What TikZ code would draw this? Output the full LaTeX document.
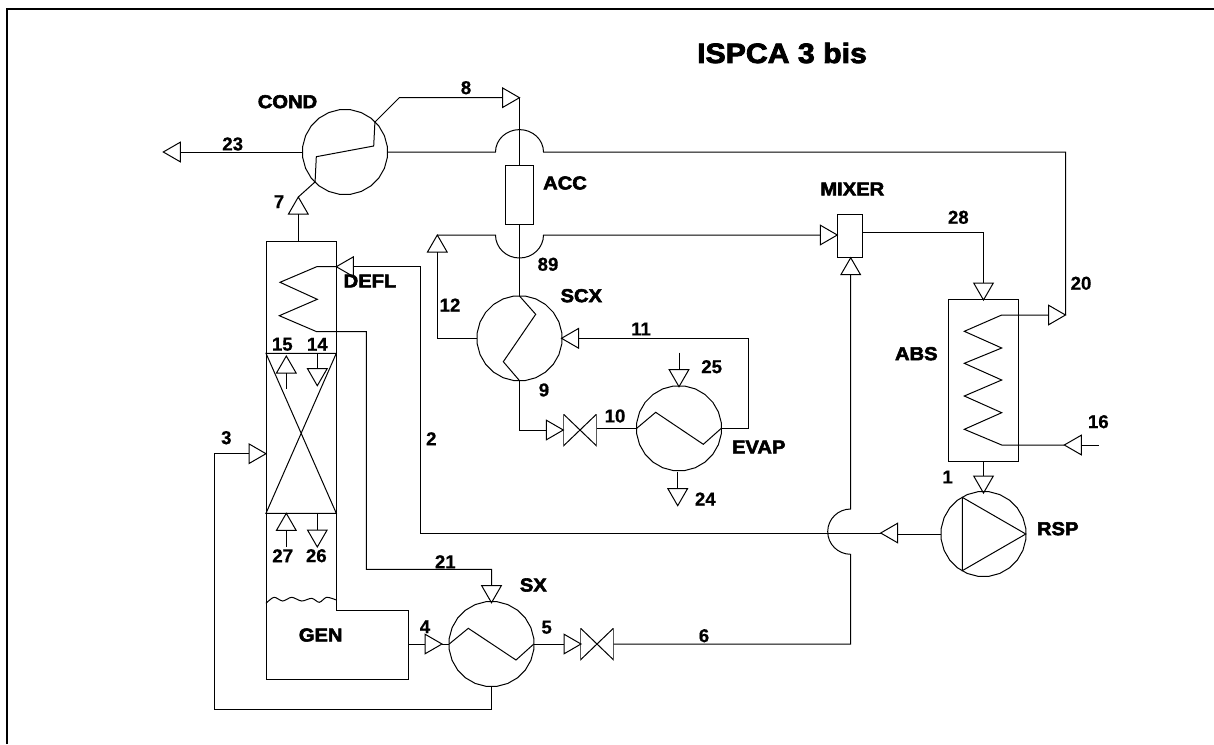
\documentclass[tikz,border=0pt]{standalone}
\usepackage{fontspec}
\setmainfont{Liberation Sans}
\newfontfamily\heavyfont[UprightFont=* Bold,FakeBold=3,FakeStretch=1.08]{Liberation Sans}
\newfontfamily\numfont[UprightFont=* Bold,FakeBold=0.6]{Liberation Sans}
\usetikzlibrary{shapes.geometric}

\begin{document}
\begin{tikzpicture}[
    x=0.75pt, y=-0.75pt, line width=0.75pt,
    unit/.style={regular polygon, regular polygon sides=24, draw, inner sep=0pt, outer sep=0pt, minimum size=64pt},
    vessel/.style={rectangle, draw, inner sep=0pt, outer sep=0pt},
    tri/.style={regular polygon, regular polygon sides=3, draw, inner sep=0pt, outer sep=0pt, minimum size=17pt, anchor=corner 1},
    triR/.style={tri, shape border rotate=-90},
    triL/.style={tri, shape border rotate=90},
    triU/.style={tri},
    triD/.style={tri, shape border rotate=180},
    valve/.style={rectangle, inner sep=0pt, outer sep=0pt, minimum width=25pt, minimum height=24pt,
        path picture={\draw (path picture bounding box.north west) -- (path picture bounding box.south east)
            -- (path picture bounding box.north east) -- (path picture bounding box.south west) -- cycle;}},
    num/.style={font=\fontsize{14}{16}\selectfont\numfont, inner sep=0pt},
    tag/.style={font=\fontsize{14}{16}\selectfont\heavyfont, inner sep=0pt}
]
\useasboundingbox (0,0) rectangle (1214,744);
\draw[line width=1.5pt] (7,744) -- (7,9) -- (1214,9);

\node[font=\fontsize{21}{24}\selectfont\heavyfont, inner sep=0pt] (title) at (782,53) {ISPCA 3 bis};

\node[unit] (COND) at (345,152) {};
\node[unit] (SCX) at (519.5,338.3) {};
\node[unit] (EVAP) at (679,428.3) {};
\node[unit] (SX) at (491.5,644) {};
\node[unit] (RSP) at (983.5,534) {};
\node[vessel, minimum width=21pt, minimum height=44.25pt] (ACC) at (519.5,194.5) {};
\node[vessel, minimum width=19pt, minimum height=32.5pt] (MIXER) at (850,236) {};
\node[vessel, minimum width=53pt, minimum height=121pt] (ABS) at (983.5,380.6) {};
\node[valve] (V1) at (580,430) {};
\node[valve] (V2) at (597,644) {};

\draw (266,241.3) -- (336.3,241.3) -- (336.3,610.7) -- (408.7,610.7) -- (408.7,679.3) -- (266,679.3) -- cycle;
\draw (266,353.3) -- (336.3,353.3) -- (266,513.3) -- (336.3,513.3) -- cycle;
\draw plot[smooth] coordinates {(266,603.3) (274,597.3) (282.7,601) (291.7,597.3) (301.7,601) (311.7,598.3) (319.3,602.3) (326.7,597.3) (336.3,600)};

\coordinate (COLtop) at (298.3,241.3);
\coordinate (GENout) at (408.7,644);
\coordinate (c2) at (420.3,533);
\coordinate (c3) at (214.7,709.3);
\coordinate (c6) at (850.7,644);
\coordinate (c8) at (399.3,97.7);
\coordinate (c11) at (748.7,338.3);
\coordinate (c14) at (317.3,353.3);
\coordinate (c26) at (317.3,513.3);
\coordinate (c28) at (862.7,232.7);
\coordinate (end15) at (286.3,389.3);
\coordinate (end16) at (1099,445);
\coordinate (end24) at (677.7,471.7);
\coordinate (end25) at (679,352.7);
\coordinate (end27) at (286.3,546.7);
\coordinate (brA) at (495.5,152);
\coordinate (brB) at (495.5,235);
\coordinate (brC) at (850.7,554.3);

\node[triR] (t8) at (519.5,97.7) {};
\node[triL] (t23) at (163.3,152) {};
\node[triU] (t7) at (298.3,197) {};
\node[triL] (tDEFL) at (336.3,266.7) {};
\node[triU] (t12) at (437.3,235) {};
\node[triL] (t11) at (561.5,338.3) {};
\node[triR] (tV1) at (563.3,430) {};
\node[triD] (t25) at (679,386.7) {};
\node[triD] (t24) at (677.7,505.7) {};
\node[triR] (t3) at (266,453.7) {};
\node[triU] (t15) at (286.3,356) {};
\node[triD] (t14) at (317.3,385.7) {};
\node[triU] (t27) at (286.3,513.3) {};
\node[triD] (t26) at (317.3,547) {};
\node[triD] (tSX) at (491.5,602.7) {};
\node[triR] (t4) at (442,644) {};
\node[triR] (t5) at (581,644) {};
\node[triR] (tMIXl) at (837.3,235) {};
\node[triU] (tMIXb) at (850.7,257.7) {};
\node[triD] (t28) at (983.5,300) {};
\node[triR] (t20) at (1065.5,315) {};
\node[triL] (t16) at (1064.3,445) {};
\node[triD] (tRSP) at (983.5,493) {};
\node[triL] (t2) at (880.7,533) {};

\draw (COND.225) -- (316.3,156.7) -- (373.7,146) -- (COND.45);
\draw (SCX.north) -- (535.7,314.3) -- (503.3,361.7) -- (SCX.south);
\draw (EVAP.west) -- (655.7,412.3) -- (703.3,444.3) -- (EVAP.east);
\draw (SX.west) -- (468.3,628.3) -- (516,660) -- (SX.east);
\draw (RSP.120) -- (RSP.east) -- (RSP.240) -- cycle;

\draw (COND.45) -- (c8) -- (t8.side 2);
\draw (t8.corner 1) -- (ACC.north);
\draw (ACC.south) -- (SCX.north);
\draw (COND.west) -- (t23.side 2);
\draw (COND.225) -- (t7.corner 1);
\draw (t7.side 2) -- (COLtop);
\draw (COND.east) -- (brA) arc[start angle=180, end angle=360, x radius=24, y radius=22.4] -| (t20.corner 1);
\draw (t12.corner 1) -- (brB) arc[start angle=180, end angle=0, x radius=24, y radius=23] -- (tMIXl.side 2);
\draw (SCX.west) -| (t12.side 2);
\draw (SCX.south) |- (tV1.side 2);
\draw (V1.east |- EVAP.west) -- (EVAP.west);
\draw (EVAP.east) -| (c11) -- (t11.side 2);
\draw (end25) -- (t25.side 2);
\draw (end24) -- (t24.side 2);
\draw (RSP.west) -- (RSP.west -| t2.side 2);
\draw (t2.corner 1) -- (c2) |- (tDEFL.side 2);
\draw (tDEFL.corner 1) -- (316.7,266.7) -- (280,282.3) -- (317.3,299.3) -- (279.3,315.7) -- (316.7,331.7) -- (366.3,331.7) -- (366.3,569.3) -| (tSX.side 2);
\draw (c14) -- (t14.side 2);
\draw (t15.side 2) -- (end15);
\draw (t27.side 2) -- (end27);
\draw (c26) -- (t26.side 2);
\draw (GENout) -- (t4.side 2);
\draw (t4.corner 1) -- (SX.west);
\draw (SX.east) -- (t5.side 2);
\draw (SX.south) |- (c3) |- (t3.side 2);
\draw (V2.east) -- (c6) -- (brC) arc[start angle=90, end angle=270, x radius=23, y radius=22.65] -- (tMIXb.side 2);
\draw (c28) -| (t28.side 2);
\draw (t20.side 2) -- (1001.7,315) -- (964.3,331.3) -- (1001.7,348) -- (964.3,363.3) -- (1001.7,380) -- (964.3,396) -- (1001.7,412.7) -- (964.3,429.3) -- (1001.7,445) -- (t16.corner 1);
\draw (t16.side 2) -- (end16);
\draw (ABS.south) -- (tRSP.side 2);

\node[tag] (lCOND) at (287.5,101.7) {COND};
\node[tag] (lACC) at (565,183) {ACC};
\node[tag] (lDEFL) at (370,281) {DEFL};
\node[tag] (lSCX) at (581.3,295.7) {SCX};
\node[tag] (lEVAP) at (758.7,447) {EVAP};
\node[tag] (lGEN) at (320.7,635) {GEN};
\node[tag] (lSX) at (533.3,585) {SX};
\node[tag] (lMIXER) at (852.3,189) {MIXER};
\node[tag] (lABS) at (916.3,353.7) {ABS};
\node[tag] (lRSP) at (1057.7,528.7) {RSP};

\node[num] (n1) at (947.7,477) {1};
\node[num] (n2) at (431.3,438.7) {2};
\node[num] (n3) at (226.3,437.7) {3};
\node[num] (n4) at (425,626.7) {4};
\node[num] (n5) at (546.7,627.3) {5};
\node[num] (n6) at (704,635.7) {6};
\node[num] (n7) at (279,201.7) {7};
\node[num] (n8) at (466,87.7) {8};
\node[num] (n9) at (544,390) {9};
\node[num] (n10) at (615,416) {10};
\node[num] (n11) at (641,329) {11};
\node[num] (n12) at (450,305) {12};
\node[num] (n14) at (317.3,344.3) {14};
\node[num] (n15) at (282.3,344.3) {15};
\node[num] (n16) at (1098.3,421.7) {16};
\node[num] (n20) at (1081,283.3) {20};
\node[num] (n21) at (445.3,561.7) {21};
\node[num] (n23) at (232.7,144) {23};
\node[num] (n24) at (705.3,499) {24};
\node[num] (n25) at (711.7,366.7) {25};
\node[num] (n26) at (316.3,555.7) {26};
\node[num] (n27) at (282.7,555.7) {27};
\node[num] (n28) at (958.3,217.3) {28};
\node[num] (n89) at (548,264.3) {89};
\end{tikzpicture}
\end{document}
